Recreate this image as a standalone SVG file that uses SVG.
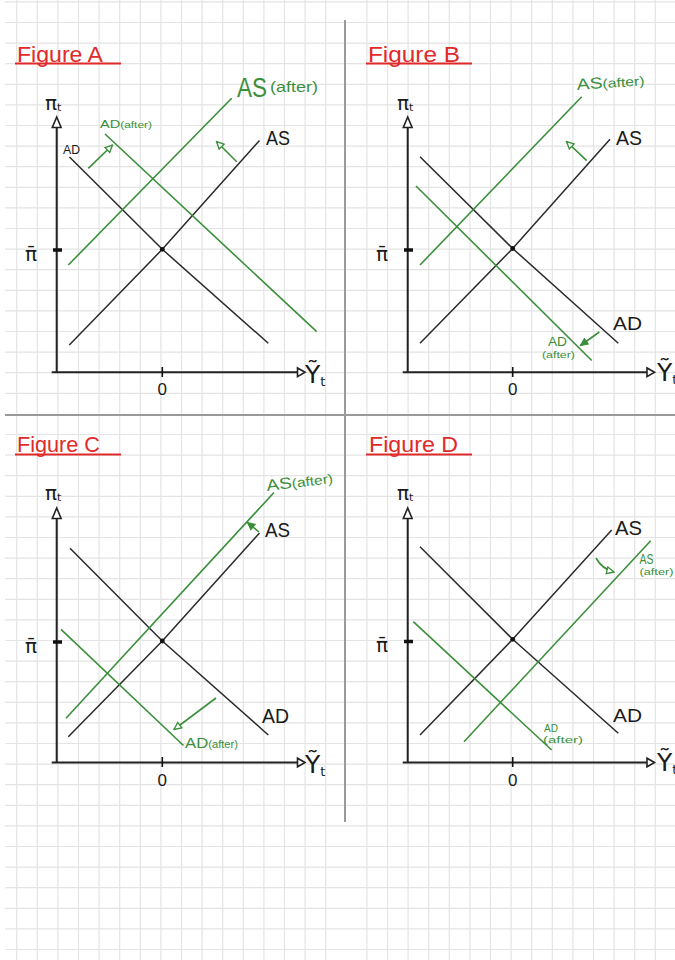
<svg xmlns="http://www.w3.org/2000/svg" width="675" height="960" viewBox="0 0 675 960">
<style>
.grid{stroke:#e4e4e4;stroke-width:1.2;fill:none}
.div{stroke:#9a9a9a;stroke-width:2;fill:none}
.axis{stroke:#222;stroke-width:2;fill:none}
.ahead{fill:#fff;stroke:#222;stroke-width:1.6}
.blk{stroke:#2a2a2a;stroke-width:1.5;fill:none}
.grn{stroke:#3b8f3b;stroke-width:1.6;fill:none}
.tickbar{stroke:#111;stroke-width:3.5}
.tick{stroke:#111;stroke-width:1.6}
.title{font-family:"Liberation Sans",Arial,sans-serif;font-size:22px;fill:#e02a2a}
.uline{stroke:#e02a2a;stroke-width:2}
.t{font-family:"Liberation Sans",Arial,sans-serif;fill:#1a1a1a}
.tg{font-family:"Liberation Sans",Arial,sans-serif;fill:#3b8f3b}
.sym{font-family:"DejaVu Sans",sans-serif;fill:#1a1a1a}
</style>
<defs>
<marker id="openG" viewBox="0 0 10 10" refX="9" refY="5" markerWidth="9" markerHeight="9" markerUnits="userSpaceOnUse" orient="auto"><path d="M1,1.2 L9,5 L1,8.8 Z" fill="#fff" stroke="#3b8f3b" stroke-width="1.5"/></marker>
<marker id="fillG" viewBox="0 0 10 10" refX="9" refY="5" markerWidth="9" markerHeight="9" markerUnits="userSpaceOnUse" orient="auto"><path d="M1,1.2 L9,5 L1,8.8 Z" fill="#3b8f3b" stroke="#3b8f3b" stroke-width="1.2"/></marker>
</defs>
<rect x="0" y="0" width="675" height="960" fill="#fff"/>
<g id="grid">
<path class="grid" d="M16.7 0V960M37.3 0V960M57.9 0V960M78.5 0V960M99.1 0V960M119.7 0V960M140.3 0V960M160.9 0V960M181.5 0V960M202.1 0V960M222.7 0V960M243.3 0V960M263.9 0V960M284.5 0V960M305.1 0V960M325.7 0V960M366.9 0V960M387.5 0V960M408.1 0V960M428.7 0V960M449.3 0V960M469.9 0V960M490.5 0V960M511.1 0V960M531.7 0V960M552.3 0V960M572.9 0V960M593.5 0V960M614.1 0V960M634.7 0V960M655.3 0V960"/>
<path class="grid" d="M5 1.9H675M5 22.5H675M5 43.1H675M5 63.7H675M5 84.3H675M5 104.9H675M5 125.5H675M5 146.1H675M5 166.7H675M5 187.3H675M5 207.9H675M5 228.5H675M5 249.1H675M5 269.7H675M5 290.3H675M5 310.9H675M5 331.5H675M5 352.1H675M5 372.7H675M5 393.3H675M5 434.5H675M5 455.1H675M5 475.7H675M5 496.3H675M5 516.9H675M5 537.5H675M5 558.1H675M5 578.7H675M5 599.3H675M5 619.9H675M5 640.5H675M5 661.1H675M5 681.7H675M5 702.3H675M5 722.9H675M5 743.5H675M5 764.1H675M5 784.7H675M5 805.3H675M5 825.9H675M5 846.5H675M5 867.1H675M5 887.7H675M5 908.3H675M5 928.9H675M5 949.5H675"/>
</g>
<g id="dividers">
<path class="div" d="M345 20V822M5 415H675"/>
</g>

<g id="figA">
<text class="title" x="17" y="61.5" textLength="86" lengthAdjust="spacingAndGlyphs">Figure A</text>
<line class="uline" x1="15" y1="63.5" x2="121" y2="63.5"/>
<path class="axis" d="M56.7 127V372.3M51.7 372.3H298"/>
<polygon class="ahead" points="56.7,117 52.3,127.5 61.1,127.5"/>
<polygon class="ahead" points="305,372.3 297.5,368 297.5,376.6"/>
<line class="tickbar" x1="53" y1="250" x2="62" y2="250"/>
<line class="tick" x1="162.3" y1="367" x2="162.3" y2="377"/>
<text class="sym" x="45" y="110" font-size="20">π<tspan font-size="11" dy="1">t</tspan></text>
<text class="sym" x="25" y="261" font-size="20">π̄</text>
<text class="t" x="162.3" y="395" font-size="17" text-anchor="middle">0</text>
<text class="sym" x="305" y="383" font-size="25">Ỹ<tspan font-size="13" dy="3">t</tspan></text>
<g id="curvesA">
<polyline class="blk" points="69.3,345 162.3,249.3 259.5,140.5"/>
<polyline class="blk" points="69.5,157 162.3,249.3 268.3,343.3"/>
<line class="grn" x1="68.3" y1="265" x2="231.7" y2="98.3"/>
<line class="grn" x1="105" y1="134" x2="316.7" y2="331.7"/>
<circle cx="162.3" cy="249.3" r="2.4" fill="#111"/>
<path class="grn" d="M236.7 161.7L216.5 141.5" marker-end="url(#openG)"/>
<path class="grn" d="M88.3 168.3L112.5 145" marker-end="url(#openG)"/>
</g>
<text class="t" x="63" y="154" font-size="13" textLength="17" lengthAdjust="spacingAndGlyphs">AD</text>
<text class="tg" x="100" y="128" textLength="52" lengthAdjust="spacingAndGlyphs"><tspan font-size="11">AD</tspan><tspan font-size="9">(after)</tspan></text>
<text class="t" x="266" y="145" font-size="20" textLength="24" lengthAdjust="spacingAndGlyphs">AS</text>
<text class="tg" x="237" y="97" font-size="27" textLength="30" lengthAdjust="spacingAndGlyphs">AS</text>
<text class="tg" x="270" y="92" font-size="14" textLength="48" lengthAdjust="spacingAndGlyphs">(after)</text>
</g>

<g id="figB">
<text class="title" x="368" y="61.5" textLength="92" lengthAdjust="spacingAndGlyphs">Figure B</text>
<line class="uline" x1="366" y1="63.5" x2="472" y2="63.5"/>
<path class="axis" d="M407.7 127V372.3M402.7 372.3H647"/>
<polygon class="ahead" points="407.7,117 403.3,127.5 412.1,127.5"/>
<polygon class="ahead" points="654.5,372.3 647,368 647,376.6"/>
<line class="tickbar" x1="404" y1="250" x2="413" y2="250"/>
<line class="tick" x1="512.7" y1="367" x2="512.7" y2="377"/>
<text class="sym" x="397" y="110" font-size="20">π<tspan font-size="11" dy="1">t</tspan></text>
<text class="sym" x="376" y="261" font-size="20">π̄</text>
<text class="t" x="512.7" y="395" font-size="17" text-anchor="middle">0</text>
<text class="sym" x="657" y="381" font-size="25">Ỹ<tspan font-size="13" dy="3">t</tspan></text>
<g id="curvesB">
<polyline class="blk" points="420,343.3 512.7,248.5 610,139.3"/>
<polyline class="blk" points="420,156.7 512.7,248.5 618.3,343.3"/>
<line class="grn" x1="420" y1="265" x2="581.7" y2="96.7"/>
<line class="grn" x1="416" y1="186" x2="591.7" y2="360.5"/>
<circle cx="512.7" cy="248.5" r="2.4" fill="#111"/>
<path class="grn" d="M586.7 160.7L566.5 141.5" marker-end="url(#openG)"/>
<path class="grn" d="M599.3 332L580.5 345.5" marker-end="url(#fillG)"/>
</g>
<text class="tg" x="577" y="90" transform="rotate(-4 577 90)" textLength="68" lengthAdjust="spacingAndGlyphs"><tspan font-size="16">AS</tspan><tspan font-size="13">(after)</tspan></text>
<text class="t" x="616" y="145" font-size="20" textLength="26" lengthAdjust="spacingAndGlyphs">AS</text>
<text class="t" x="613" y="330" font-size="19" textLength="29" lengthAdjust="spacingAndGlyphs">AD</text>
<text class="tg" x="548" y="346" font-size="12" textLength="19" lengthAdjust="spacingAndGlyphs">AD</text>
<text class="tg" x="542" y="358" font-size="9" textLength="33" lengthAdjust="spacingAndGlyphs">(after)</text>
</g>

<g id="figC">
<text class="title" x="17" y="452" textLength="83" lengthAdjust="spacingAndGlyphs">Figure C</text>
<line class="uline" x1="15" y1="454.5" x2="121" y2="454.5"/>
<path class="axis" d="M56.7 518V762.5M51.7 762.5H298"/>
<polygon class="ahead" points="56.7,508 52.3,518.5 61.1,518.5"/>
<polygon class="ahead" points="305,762.5 297.5,758.2 297.5,766.8"/>
<line class="tickbar" x1="53" y1="642" x2="62" y2="642"/>
<line class="tick" x1="162.3" y1="757" x2="162.3" y2="767"/>
<text class="sym" x="45" y="500" font-size="20">π<tspan font-size="11" dy="1">t</tspan></text>
<text class="sym" x="25" y="653" font-size="20">π̄</text>
<text class="t" x="162.3" y="786" font-size="17" text-anchor="middle">0</text>
<text class="sym" x="305" y="773" font-size="25">Ỹ<tspan font-size="13" dy="3">t</tspan></text>
<g id="curvesC">
<polyline class="blk" points="68.3,736.7 162.3,641 259.5,533"/>
<polyline class="blk" points="70,548.3 162.3,641 268.3,735"/>
<line class="grn" x1="66" y1="718.3" x2="274" y2="492.5"/>
<line class="grn" x1="61" y1="629.3" x2="183.5" y2="745.5"/>
<circle cx="162.3" cy="641" r="2.4" fill="#111"/>
<path class="grn" d="M259 532L247.5 522.5" marker-end="url(#fillG)"/>
<path class="grn" d="M216 698L174 729.5" marker-end="url(#openG)"/>
</g>
<text class="tg" x="267" y="491" transform="rotate(-7 267 491)" textLength="67" lengthAdjust="spacingAndGlyphs"><tspan font-size="16">AS</tspan><tspan font-size="13">(after)</tspan></text>
<text class="t" x="265" y="537" font-size="21" textLength="25" lengthAdjust="spacingAndGlyphs">AS</text>
<text class="t" x="262" y="723" font-size="20" textLength="27" lengthAdjust="spacingAndGlyphs">AD</text>
<text class="tg" x="185" y="748" textLength="53" lengthAdjust="spacingAndGlyphs"><tspan font-size="15">AD</tspan><tspan font-size="10">(after)</tspan></text>
</g>

<g id="figD">
<text class="title" x="369" y="452" textLength="89" lengthAdjust="spacingAndGlyphs">Figure D</text>
<line class="uline" x1="366" y1="454.5" x2="472" y2="454.5"/>
<path class="axis" d="M407.7 518V762.5M402.7 762.5H647"/>
<polygon class="ahead" points="407.7,508 403.3,518.5 412.1,518.5"/>
<polygon class="ahead" points="654.5,762.5 647,758.2 647,766.8"/>
<line class="tickbar" x1="404" y1="641.5" x2="413" y2="641.5"/>
<line class="tick" x1="512.7" y1="757" x2="512.7" y2="767"/>
<text class="sym" x="397" y="500" font-size="20">π<tspan font-size="11" dy="1">t</tspan></text>
<text class="sym" x="376" y="652" font-size="20">π̄</text>
<text class="t" x="512.7" y="786" font-size="17" text-anchor="middle">0</text>
<text class="sym" x="657" y="771" font-size="25">Ỹ<tspan font-size="13" dy="3">t</tspan></text>
<g id="curvesD">
<polyline class="blk" points="420,735 512.7,639.3 611.7,530"/>
<polyline class="blk" points="420,546.7 512.7,639.3 618.3,733.3"/>
<line class="grn" x1="464" y1="741.7" x2="650.7" y2="540.7"/>
<line class="grn" x1="413.3" y1="621.7" x2="551.7" y2="750"/>
<circle cx="512.7" cy="639.3" r="2.4" fill="#111"/>
<path class="grn" d="M596 558Q602 569 614 572" marker-end="url(#openG)"/>
</g>
<text class="t" x="615" y="535" font-size="21" textLength="27" lengthAdjust="spacingAndGlyphs">AS</text>
<text class="t" x="613" y="722" font-size="19" textLength="29" lengthAdjust="spacingAndGlyphs">AD</text>
<text class="tg" x="639.5" y="564" font-size="14" textLength="14" lengthAdjust="spacingAndGlyphs">AS</text>
<text class="tg" x="639.5" y="575" font-size="9" textLength="34" lengthAdjust="spacingAndGlyphs">(after)</text>
<text class="tg" x="544" y="731.5" font-size="11" textLength="14" lengthAdjust="spacingAndGlyphs">AD</text>
<text class="tg" x="543" y="743" font-size="9" textLength="40" lengthAdjust="spacingAndGlyphs">(after)</text>
</g>
</svg>
